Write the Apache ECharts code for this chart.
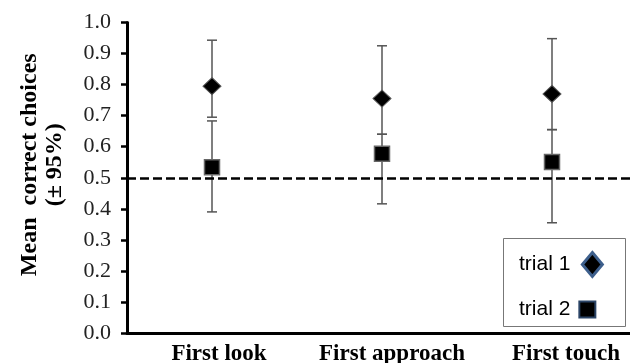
<!DOCTYPE html>
<html>
<head>
<meta charset="utf-8">
<script src="https://cdn.jsdelivr.net/npm/echarts@6/dist/echarts.min.js"></script>
<style>html,body{margin:0;padding:0;background:#fff}#c{width:630px;height:363px}</style>
</head>
<body>
<div id="c"></div>
<script>
var categories = ['First look', 'First approach', 'First touch'];
var yTicks = [0, 0.1, 0.2, 0.3, 0.4, 0.5, 0.6, 0.7, 0.8, 0.9, 1.0];
var trial1Mean = [0.795, 0.755, 0.770];
var trial1Low  = [0.695, 0.640, 0.655];
var trial1High = [0.943, 0.925, 0.948];
var trial2Mean = [0.534, 0.577, 0.551];
var trial2Low  = [0.390, 0.416, 0.355];
var trial2High = [0.683, 0.640, 0.655];
var chanceLevel = 0.5;

function errData(low, high) {
  return categories.map(function (c, i) { return [i, low[i], high[i]]; });
}
function errRender(params, api) {
  var x = api.value(0);
  var lo = api.coord([x, api.value(1)]);
  var hi = api.coord([x, api.value(2)]);
  var cap = 5;
  var st = { stroke: '#555', lineWidth: 1.5 };
  return {
    type: 'group',
    children: [
      { type: 'line', shape: { x1: lo[0], y1: lo[1], x2: hi[0], y2: hi[1] }, style: st },
      { type: 'line', shape: { x1: lo[0] - cap, y1: lo[1], x2: lo[0] + cap, y2: lo[1] }, style: st },
      { type: 'line', shape: { x1: hi[0] - cap, y1: hi[1], x2: hi[0] + cap, y2: hi[1] }, style: st }
    ]
  };
}

var labelKeys = ['a', 'b', 'c'];
var chart = echarts.init(document.getElementById('c'), null, { renderer: 'canvas' });
chart.setOption({
  animation: false,
  backgroundColor: '#fff',
  grid: { left: 127, right: -7, top: 22.5, bottom: 30, containLabel: false, outerBoundsMode: 'none' },
  xAxis: {
    type: 'category',
    data: categories,
    axisTick: { show: false },
    axisLine: { lineStyle: { color: '#000', width: 3 } },
    axisLabel: {
      interval: 0, hideOverlap: false,
      color: '#000', fontFamily: 'Liberation Serif', fontWeight: 'bold', fontSize: 23,
      margin: 10,
      formatter: function (v, i) { return '{' + labelKeys[i] + '|' + v + '}'; },
      rich: {
        a: { fontFamily: 'Liberation Serif', fontWeight: 'bold', fontSize: 23, color: '#000', padding: [0, 0, 0, 14] },
        b: { fontFamily: 'Liberation Serif', fontWeight: 'bold', fontSize: 23, color: '#000', padding: [0, 0, 0, 20] },
        c: { fontFamily: 'Liberation Serif', fontWeight: 'bold', fontSize: 23, color: '#000', padding: [0, 0, 0, 28] }
      }
    }
  },
  yAxis: {
    type: 'value', min: 0, max: 1, interval: 0.1,
    splitLine: { show: false },
    axisLine: { show: true, lineStyle: { color: '#000', width: 3 } },
    axisTick: { show: true, length: 6, lineStyle: { color: '#000', width: 2.5 } },
    axisLabel: {
      color: '#222', fontFamily: 'Liberation Serif', fontSize: 22, margin: 16,
      formatter: function (v) { return v.toFixed(1); }
    },
    name: 'Mean  correct choices\n(± 95%)',
    nameLocation: 'middle',
    nameRotate: 90,
    nameGap: 60,
    nameTextStyle: { color: '#000', fontFamily: 'Liberation Serif', fontWeight: 'bold', fontSize: 24, lineHeight: 25, padding: [0, 0, 0, 26] }
  },
  graphic: [{
    type: 'rect', left: 503, top: 238, z: 50,
    shape: { width: 122, height: 88 },
    style: { fill: '#fff', stroke: '#777', lineWidth: 1 }
  }],
  legend: [{
    left: 519, top: 251, z: 60, align: 'right', selectedMode: false,
    itemWidth: 20, itemHeight: 24, padding: 0,
    textStyle: { fontFamily: 'Liberation Sans', fontSize: 21, color: '#000', padding: [0, 7, 0, 0] },
    data: [{ name: 'trial 1', icon: 'diamond', itemStyle: { color: '#000', borderColor: '#3d5f8c', borderWidth: 3 } }]
  }, {
    left: 519, top: 299, z: 60, align: 'right', selectedMode: false,
    itemWidth: 16, itemHeight: 16, padding: 0,
    textStyle: { fontFamily: 'Liberation Sans', fontSize: 21, color: '#000', padding: [0, 4, 0, 0] },
    data: [{ name: 'trial 2', icon: 'rect', itemStyle: { color: '#000', borderColor: '#2b4466', borderWidth: 2 } }]
  }],
  series: [
    { type: 'custom', name: 'err1', renderItem: errRender, data: errData(trial1Low, trial1High), z: 2, silent: true },
    { type: 'custom', name: 'err2', renderItem: errRender, data: errData(trial2Low, trial2High), z: 2, silent: true,
      markLine: {
        silent: true, symbol: ['none', 'none'], label: { show: false },
        lineStyle: { color: '#000', width: 2.5, type: [9, 4] },
        data: [{ yAxis: chanceLevel }]
      }
    },
    { type: 'scatter', name: 'trial 1', data: trial1Mean, symbol: 'diamond', symbolSize: [18, 17], z: 5,
      itemStyle: { color: '#000', borderColor: '#555', borderWidth: 1, opacity: 1 } },
    { type: 'scatter', name: 'trial 2', data: trial2Mean, symbol: 'rect', symbolSize: 15, z: 5,
      itemStyle: { color: '#000', borderColor: '#666', borderWidth: 1.5, opacity: 1 } }
  ]
});
</script>
</body>
</html>
